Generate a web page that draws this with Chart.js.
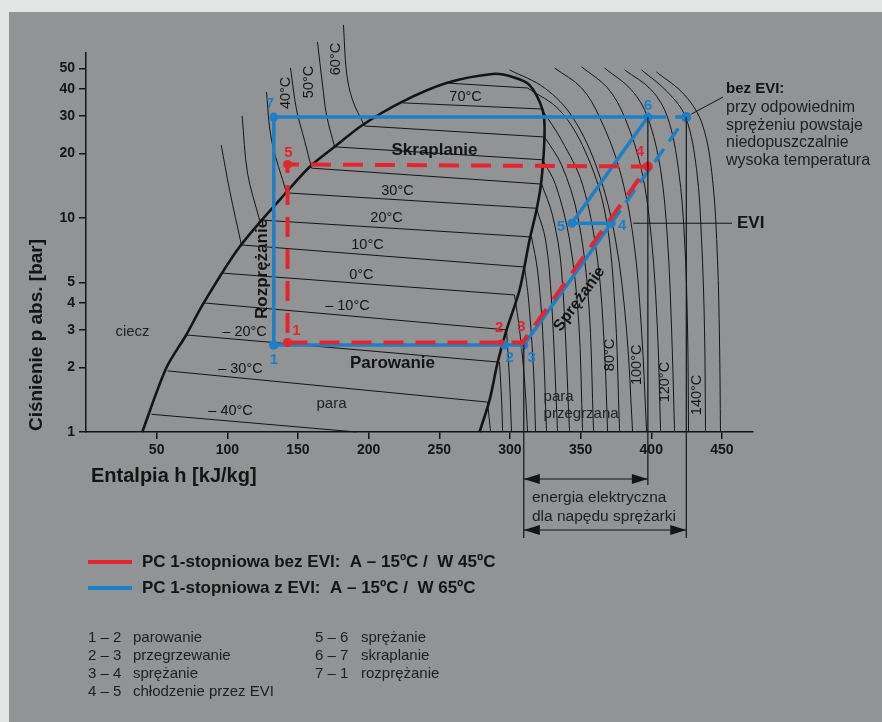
<!DOCTYPE html>
<html>
<head>
<meta charset="utf-8">
<script src="https://cdn.jsdelivr.net/npm/chart.js@4.4.0/dist/chart.umd.min.js"></script>
<style>
  html, body { margin: 0; padding: 0; }
  body { width: 882px; height: 722px; background: #e4e6e5; position: relative; overflow: hidden; }
  #panel { position: absolute; left: 9px; top: 12px; right: 0; bottom: 0; background: #929395; }
  #wrap { position: absolute; left: 0; top: 0; width: 882px; height: 722px; }
</style>
</head>
<body>
<div id="panel"></div>
<div id="wrap"><canvas id="ph"></canvas></div>
<script>
const FONT = '"Liberation Sans", Arial, Helvetica, sans-serif';
const RED = '#e3262d';
const BLUE = '#1b80c8';
const INK = '#141414';

const xTicks = [50, 100, 150, 200, 250, 300, 350, 400, 450];
const yTicks = [1, 2, 3, 4, 5, 10, 20, 30, 40, 50];

// [h kJ/kg, p bar]
const domeCurve = [
  [39.8, 1.0], [56.8, 1.99], [70.9, 2.84], [83.2, 4.0], [108.6, 7.32], [141.9, 13.2],
  [158.2, 17.3], [175.9, 21.5], [195.7, 27.2], [223.3, 34.8], [255.1, 42.7], [287.7, 47.1],
  [301.9, 45.6], [313.9, 41.8], [323.1, 32.0], [324.5, 25.0], [322.3, 15.0], [318.8, 10.9],
  [313.9, 7.9], [306.8, 4.61], [297.6, 3.0], [291.2, 2.1], [285.6, 1.41], [278.5, 1.0]
];

// isotherms inside the dome (80 .. -40 °C)
const wetIsotherms = [
  [[255.1, 42.7], [312.4, 40.5]],
  [[224.0, 34.5], [322.4, 32.3]],
  [[197.1, 26.9], [324.5, 23.9]],
  [[175.9, 21.5], [323.1, 18.7]],
  [[159.6, 17.1], [322.4, 14.4]],
  [[141.9, 13.1], [318.8, 11.1]],
  [[122.8, 9.79], [315.3, 8.15]],
  [[110.0, 7.48], [310.3, 5.90]],
  [[95.9, 5.53], [303.2, 4.37]],
  [[83.2, 4.01], [297.6, 3.0]],
  [[71.1, 2.84], [292.6, 2.12]],
  [[57.7, 1.93], [284.1, 1.38]],
  [[46.4, 1.21], [191.5, 1.0]]
];

// subcooled liquid isotherms
const liquidIsotherms = [
  [[95.7, 21.9], [101.6, 13.5], [110.0, 7.48]],
  [[110.5, 30.0], [114.3, 16.2], [122.8, 9.79]],
  [[127.7, 38.8], [131.3, 23.1], [141.9, 13.1]],
  [[144.7, 50.2], [149.0, 32.0], [154.6, 23.1], [159.6, 17.1]],
  [[163.8, 66.4], [167.4, 41.8], [170.2, 30.3], [175.9, 21.5]],
  [[182.2, 79.8], [184.4, 47.6], [188.6, 35.6], [197.1, 26.9]]
];

// superheated vapour isotherms (-30 .. 150 °C)
const vaporIsotherms = [
  [[284.1, 1.38], [286.3, 1.0]],
  [[292.6, 2.12], [294.1, 1.41], [294.8, 1.0]],
  [[297.6, 3.0], [299.7, 1.75], [301.1, 1.0]],
  [[303.2, 4.37], [306.8, 3.0], [310.3, 1.75], [312.5, 1.0]],
  [[310.3, 5.90], [313.2, 4.14], [316.7, 1.95], [318.1, 1.0]],
  [[315.3, 8.15], [319.5, 5.71], [323.1, 3.0], [325.9, 1.0]],
  [[318.8, 11.1], [325.2, 7.9], [329.4, 4.14], [333.7, 1.0]],
  [[322.4, 14.4], [330.1, 10.3], [336.5, 5.71], [342.2, 1.0]],
  [[323.1, 18.7], [332.3, 14.3], [342.2, 7.9], [348.6, 3.33], [351.4, 1.0]],
  [[324.5, 23.9], [336.5, 17.7], [347.8, 10.3], [355.6, 4.14], [359.2, 1.0]],
  [[322.4, 32.3], [336.5, 23.1], [351.4, 14.3], [362.0, 6.35], [366.9, 2.42], [369.1, 1.0]],
  [[312.4, 40.5], [335.1, 31.9], [352.8, 20.8], [366.9, 10.9], [374.0, 4.14], [377.6, 1.0]],
  [[299.7, 49.2], [324.5, 40.5], [344.3, 29.6], [362.0, 16.8], [374.7, 7.9], [382.5, 3.0], [386.8, 1.0]],
  [[331.6, 50.2], [350.7, 40.5], [363.4, 29.6], [377.6, 16.8], [387.5, 7.9], [393.1, 3.0], [396.7, 1.0]],
  [[350.7, 50.8], [369.1, 40.5], [381.1, 29.6], [393.1, 16.8], [400.2, 7.9], [404.4, 3.0], [406.6, 1.0]],
  [[366.9, 50.2], [386.1, 39.6], [397.4, 29.6], [406.6, 16.8], [411.5, 7.9], [414.4, 3.0], [416.5, 1.0]],
  [[381.1, 49.2], [400.2, 39.6], [411.5, 29.6], [419.3, 16.8], [423.6, 7.9], [425.7, 3.0], [426.4, 1.0]],
  [[393.1, 49.2], [411.5, 38.8], [424.3, 29.6], [432.1, 16.8], [435.6, 7.9], [437.7, 3.0], [438.4, 1.0]],
  [[403.7, 48.1], [423.6, 37.6], [436.3, 27.2], [443.4, 15.1], [446.9, 6.35], [448.3, 2.69], [449.0, 1.0]]
];

// cycles: points 1..7
const blueCycle = [[132.9, 2.55], [296.2, 2.55], [309.8, 2.55], [371.7, 9.45], [343.8, 9.45], [397.6, 29.6], [132.9, 29.6]];
const blueNoEvi = [[371.7, 9.45], [424.8, 29.6], [397.6, 29.6]];
const redCycle = [[142.6, 2.62], [293.8, 2.62], [308.9, 2.62], [397.6, 17.4], [142.6, 17.8]];
const pointNames = ['1', '2', '3', '4', '5', '6', '7'];

// text in the diagram, anchored at [h, p]
const plainLabels = [
  ['70°C', 268.6, 36.7], ['30°C', 220.4, 13.4], ['20°C', 212.7, 10.0], ['10°C', 199.2, 7.48],
  ['0°C', 194.9, 5.41], ['– 10°C', 185.0, 3.88], ['– 20°C', 112.2, 2.93], ['– 30°C', 109.3, 1.97],
  ['– 40°C', 102.3, 1.25]
];
const zoneLabels = [['ciecz', 32.9, 2.93], ['para', 173.7, 1.35]];
const boldLabels = [['Skraplanie', 246.6, 20.8], ['Parowanie', 216.9, 2.10]];
const verticalTemps = [
  ['40°C', 141.2, 38.4], ['50°C', 157.5, 43.2], ['60°C', 176.6, 55.3],
  ['80°C', 370.5, 2.29], ['100°C', 389.6, 2.06], ['120°C', 409.4, 1.71], ['140°C', 432.1, 1.49]
];

const legendRows = [
  [RED, 'PC 1-stopniowa bez EVI:  A – 15ºC /  W 45ºC'],
  [BLUE, 'PC 1-stopniowa z EVI:  A – 15ºC /  W 65ºC']
];
const stepsLeft = [['1 – 2', 'parowanie'], ['2 – 3', 'przegrzewanie'], ['3 – 4', 'sprężanie'], ['4 – 5', 'chłodzenie przez EVI']];
const stepsRight = [['5 – 6', 'sprężanie'], ['6 – 7', 'skraplanie'], ['7 – 1', 'rozprężanie']];
const noteLines = ['przy odpowiednim', 'sprężeniu powstaje', 'niedopuszczalnie', 'wysoka temperatura'];

const toXY = arr => arr.map(([x, y]) => ({ x, y }));
const thin = (pts, tension) => ({
  data: toXY(pts), borderColor: INK, borderWidth: 1, pointRadius: 0,
  showLine: true, tension, clip: false
});

function drawText(ctx, str, x, y, opt = {}) {
  ctx.save();
  ctx.font = opt.font || `14px ${FONT}`;
  ctx.fillStyle = opt.color || INK;
  ctx.textAlign = opt.align || 'center';
  ctx.textBaseline = 'middle';
  ctx.translate(x, y);
  if (opt.rot) ctx.rotate(opt.rot * Math.PI / 180);
  ctx.fillText(str, 0, 0);
  ctx.restore();
}

function dimArrow(ctx, x1, x2, y) {
  ctx.beginPath(); ctx.moveTo(x1, y); ctx.lineTo(x2, y); ctx.stroke();
  [[x1, 1], [x2, -1]].forEach(([x, d]) => {
    ctx.beginPath();
    ctx.moveTo(x, y);
    ctx.lineTo(x + d * 16, y - 5);
    ctx.lineTo(x + d * 16, y + 5);
    ctx.closePath();
    ctx.fill();
  });
}

const annotations = {
  id: 'annotations',
  afterDatasetsDraw(chart) {
    const { ctx, scales: { x, y } } = chart;
    const px = h => x.getPixelForValue(h);
    const py = p => y.getPixelForValue(p);

    plainLabels.forEach(([t, h, p]) => drawText(ctx, t, px(h), py(p), { font: `14.5px ${FONT}` }));
    zoneLabels.forEach(([t, h, p]) => drawText(ctx, t, px(h), py(p), { font: `15px ${FONT}`, color: '#222' }));
    boldLabels.forEach(([t, h, p]) => drawText(ctx, t, px(h), py(p), { font: `bold 17px ${FONT}` }));
    verticalTemps.forEach(([t, h, p]) => drawText(ctx, t, px(h), py(p), { font: `14.5px ${FONT}`, rot: -90 }));
    drawText(ctx, 'para', px(323.8), py(1.46), { font: `15px ${FONT}`, align: 'left', color: '#222' });
    drawText(ctx, 'przegrzana', px(323.8), py(1.21), { font: `15px ${FONT}`, align: 'left', color: '#222' });
    drawText(ctx, 'Rozprężanie', px(124.9), py(5.78), { font: `bold 17px ${FONT}`, rot: -90 });
    drawText(ctx, 'Sprężanie', px(349.2), py(4.18), { font: `bold 16px ${FONT}`, rot: -54 });

    // point numbers
    const blueOff = [[0, 15], [5, 13], [8, 13], [11, 3], [-11, 4], [0, -11], [-4, -13]];
    blueCycle.forEach(([h, p], i) => drawText(ctx, pointNames[i], px(h) + blueOff[i][0], py(p) + blueOff[i][1],
      { font: `bold 15px ${FONT}`, color: BLUE }));
    const redOff = [[9, -12], [-2, -15], [-1, -16], [-8, -15], [1, -12]];
    redCycle.forEach(([h, p], i) => drawText(ctx, pointNames[i], px(h) + redOff[i][0], py(p) + redOff[i][1],
      { font: `bold 15px ${FONT}`, color: RED }));

    // EVI marker
    ctx.save();
    ctx.strokeStyle = INK; ctx.fillStyle = INK; ctx.lineWidth = 1;
    const e4 = blueCycle[3];
    ctx.beginPath(); ctx.moveTo(px(e4[0]) + 22, py(e4[1])); ctx.lineTo(732, py(e4[1])); ctx.stroke();
    drawText(ctx, 'EVI', 737, py(e4[1]), { font: `bold 17px ${FONT}`, align: 'left' });

    // note about missing EVI
    const pTop = blueNoEvi[1];
    ctx.beginPath(); ctx.moveTo(px(pTop[0]) + 5, py(pTop[1]) - 3); ctx.lineTo(723, 97); ctx.stroke();
    drawText(ctx, 'bez EVI:', 726, 89, { font: `bold 15px ${FONT}`, align: 'left' });
    noteLines.forEach((t, i) => drawText(ctx, t, 726, 108 + i * 17.4, { font: `16px ${FONT}`, align: 'left', color: '#1e1e1e' }));

    // electric energy dimension
    const h3 = blueCycle[2], h6 = blueCycle[5];
    ctx.lineWidth = 1.2;
    ctx.beginPath();
    ctx.moveTo(px(h3[0]), py(h3[1])); ctx.lineTo(px(h3[0]), 538);
    ctx.moveTo(px(h6[0]), py(h6[1])); ctx.lineTo(px(h6[0]), 485);
    ctx.moveTo(px(pTop[0]), py(pTop[1])); ctx.lineTo(px(pTop[0]), 538);
    ctx.stroke();
    dimArrow(ctx, px(h3[0]), px(h6[0]), 479);
    dimArrow(ctx, px(h3[0]), px(pTop[0]), 530);
    drawText(ctx, 'energia elektryczna', 532, 498, { font: `15.5px ${FONT}`, align: 'left', color: '#1e1e1e' });
    drawText(ctx, 'dla napędu sprężarki', 532, 517, { font: `15.5px ${FONT}`, align: 'left', color: '#1e1e1e' });

    // axis titles
    drawText(ctx, 'Ciśnienie p abs. [bar]', 37, 335, { font: `bold 19px ${FONT}`, rot: -90 });
    drawText(ctx, 'Entalpia h [kJ/kg]', 91, 476, { font: `bold 20px ${FONT}`, align: 'left' });

    // legend
    legendRows.forEach(([c, t], i) => {
      const yy = 562 + i * 26;
      ctx.strokeStyle = c; ctx.lineWidth = 4;
      ctx.beginPath(); ctx.moveTo(88, yy); ctx.lineTo(132, yy); ctx.stroke();
      drawText(ctx, t, 142, yy, { font: `bold 17px ${FONT}`, align: 'left' });
    });

    // step list
    const stepFont = `15px ${FONT}`;
    stepsLeft.forEach(([n, t], i) => {
      drawText(ctx, n, 88, 638 + i * 18, { font: stepFont, align: 'left', color: '#1e1e1e' });
      drawText(ctx, t, 133, 638 + i * 18, { font: stepFont, align: 'left', color: '#1e1e1e' });
    });
    stepsRight.forEach(([n, t], i) => {
      drawText(ctx, n, 315, 638 + i * 18, { font: stepFont, align: 'left', color: '#1e1e1e' });
      drawText(ctx, t, 361, 638 + i * 18, { font: stepFont, align: 'left', color: '#1e1e1e' });
    });
    ctx.restore();
  }
};

const datasets = [
  {
    data: toXY([...redCycle, redCycle[0]]), borderColor: RED, borderWidth: 4, borderDash: [20, 12],
    pointRadius: [4.5, 3, 3, 5, 4.5, 0], pointBackgroundColor: RED, pointBorderWidth: 0,
    showLine: true, tension: 0, clip: false
  },
  {
    data: toXY(blueNoEvi), borderColor: BLUE, borderWidth: 3.5, borderDash: [16, 9],
    pointRadius: [0, 5, 0], pointBackgroundColor: BLUE, pointBorderWidth: 0,
    showLine: true, tension: 0, clip: false
  },
  {
    data: toXY([...blueCycle, blueCycle[0]]), borderColor: BLUE, borderWidth: 3.5,
    pointRadius: 4.5, pointBackgroundColor: BLUE, pointBorderWidth: 0,
    showLine: true, tension: 0, clip: false
  },
  { data: toXY(domeCurve), borderColor: INK, borderWidth: 2.6, pointRadius: 0, showLine: true, tension: 0.3, clip: false },
  ...wetIsotherms.map(l => thin(l, 0)),
  ...liquidIsotherms.map(l => thin(l, 0.35)),
  ...vaporIsotherms.map(l => thin(l, 0.35))
];

new Chart(document.getElementById('ph'), {
  type: 'scatter',
  data: { datasets },
  options: {
    responsive: true,
    maintainAspectRatio: false,
    animation: false,
    events: [],
    layout: { padding: { left: 40, top: 53, right: 129, bottom: 260 } },
    plugins: { legend: { display: false }, tooltip: { enabled: false } },
    scales: {
      x: {
        type: 'linear', min: 0, max: 472,
        afterBuildTicks: s => { s.ticks = xTicks.map(v => ({ value: v })); },
        afterFit: s => { s.height = 30; },
        border: { display: true, color: INK, width: 1.5 },
        grid: { display: true, drawOnChartArea: false, drawTicks: true, tickLength: 7, color: INK, lineWidth: 1.5 },
        ticks: { color: INK, font: { family: FONT, size: 14, weight: 'bold' }, padding: 3, maxRotation: 0, callback: v => String(v) }
      },
      y: {
        type: 'logarithmic', min: 1, max: 59,
        afterBuildTicks: s => { s.ticks = yTicks.map(v => ({ value: v })); },
        afterFit: s => { s.width = 46; },
        border: { display: true, color: INK, width: 1.5 },
        grid: { display: true, drawOnChartArea: false, drawTicks: true, tickLength: 7, color: INK, lineWidth: 1.5 },
        ticks: { color: INK, font: { family: FONT, size: 14, weight: 'bold' }, padding: 4, callback: v => String(v) }
      }
    }
  },
  plugins: [annotations]
});
</script>
</body>
</html>
